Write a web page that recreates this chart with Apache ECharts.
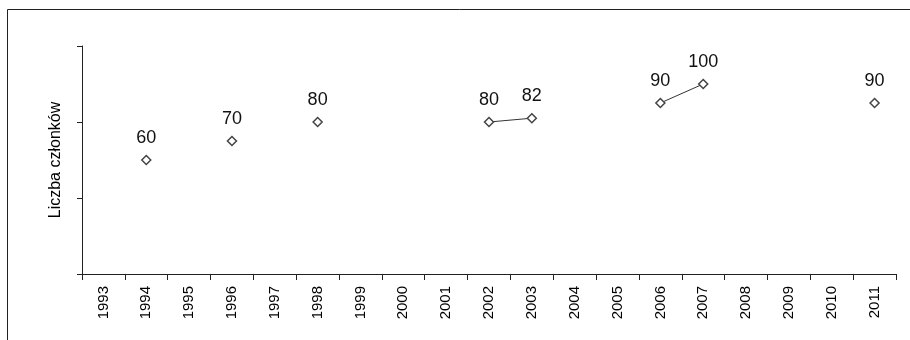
<!DOCTYPE html>
<html>
<head>
<meta charset="utf-8">
<script src="https://cdn.jsdelivr.net/npm/echarts@6/dist/echarts.min.js"></script>
<style>
html,body{margin:0;padding:0;background:#fff;}
#c{width:910px;height:340px;}
</style>
</head>
<body>
<div id="c"></div>
<script>
const years = ['1993','1994','1995','1996','1997','1998','1999','2000','2001','2002','2003','2004','2005','2006','2007','2008','2009','2010','2011'];
const members = [null,60,null,70,null,80,null,null,null,80,82,null,null,90,100,null,null,null,90];
const yAxisName = 'Liczba członków';

const chart = echarts.init(document.getElementById('c'));
chart.setOption({
  animation: false,
  textStyle: {fontFamily: 'Liberation Sans, Arial, sans-serif'},
  graphic: [{
    type: 'rect',
    shape: {x: 7.5, y: 9.5, width: 1000, height: 1000},
    style: {fill: null, stroke: '#222', lineWidth: 1},
    silent: true
  }],
  grid: {left: 82, top: 46, right: 14, bottom: 66},
  xAxis: {
    type: 'category',
    data: years,
    boundaryGap: true,
    axisLine: {lineStyle: {color: '#222', width: 1}},
    axisTick: {show: true, length: 6, interval: 0, lineStyle: {color: '#222'}},
    axisLabel: {rotate: 90, interval: 0, fontSize: 15, color: '#000', margin: 12, fontFamily: 'Liberation Sans'}
  },
  yAxis: {
    type: 'value',
    min: 0, max: 120, interval: 40,
    name: yAxisName,
    nameLocation: 'middle',
    nameGap: 18,
    nameRotate: 90,
    nameTextStyle: {fontSize: 16, color: '#000', fontFamily: 'Liberation Sans'},
    axisLine: {show: true, lineStyle: {color: '#222', width: 1}},
    axisTick: {show: true, length: 5, lineStyle: {color: '#222'}},
    axisLabel: {show: false},
    splitLine: {show: false}
  },
  series: [{
    type: 'line',
    data: members,
    connectNulls: false,
    symbol: 'diamond',
    symbolSize: 9,
    showAllSymbol: true,
    itemStyle: {color: '#fff', borderColor: '#444', borderWidth: 1.5},
    lineStyle: {color: '#333', width: 1},
    label: {show: true, position: 'top', distance: 8, fontSize: 18, color: '#111', fontFamily: 'Liberation Sans'}
  }]
});
</script>
</body>
</html>
